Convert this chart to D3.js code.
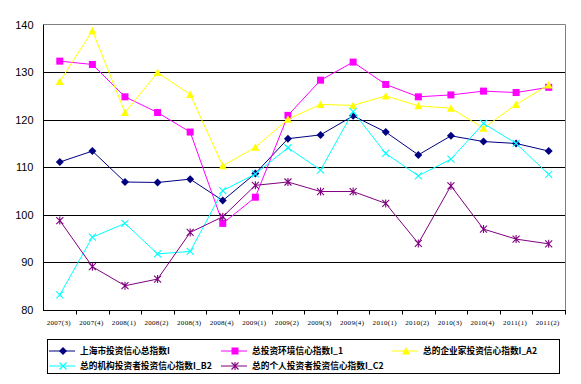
<!DOCTYPE html>
<html>
<head>
<meta charset="utf-8">
<script src="https://cdn.jsdelivr.net/npm/d3@7/dist/d3.min.js"></script>
<style>
  body { margin: 0; background: #fff; }
  svg { display: block; }
</style>
</head>
<body>
<div id="main"></div>
<script>
const W = 581, H = 384;

// quarters on the x axis
const categories = ["2007(3)", "2007(4)", "2008(1)", "2008(2)", "2008(3)", "2008(4)",
    "2009(1)", "2009(2)", "2009(3)", "2009(4)", "2010(1)", "2010(2)",
    "2010(3)", "2010(4)", "2011(1)", "2011(2)"];
const yTicks = [80, 90, 100, 110, 120, 130, 140];

// values
const totalIndex = [111.1, 113.4, 106.9, 106.8, 107.5, 103.0, 108.7, 116.0,
    116.8, 120.8, 117.4, 112.6, 116.6, 115.4, 115.0, 113.4];
const envIndex = [132.3, 131.6, 124.8, 121.5, 117.4, 98.2, 103.7, 120.9,
    128.3, 132.1, 127.4, 124.8, 125.2, 126.0, 125.7, 126.8];
const entrepreneurIndex = [128.0, 138.7, 121.5, 129.9, 125.3, 110.3, 114.2, 120.1,
    123.2, 123.0, 125.0, 122.9, 122.4, 118.2, 123.2, 127.3];
const institutionIndex = [83.2, 95.3, 98.2, 91.8, 92.3, 105.1, 108.6, 114.1,
    109.4, 121.7, 112.9, 108.2, 111.7, 119.2, 115.0, 108.5];
const personalIndex = [98.8, 89.1, 85.1, 86.5, 96.3, 99.6, 106.2, 106.9,
    104.9, 104.9, 102.4, 94.0, 106.1, 97.0, 94.9, 93.9];

const seriesNames = ["上海市投资信心总指数I", "总投资环境信心指数I_1", "总的企业家投资信心指数I_A2",
    "总的机构投资者投资信心指数I_B2", "总的个人投资者投资信心指数I_C2"];
const seriesValues = [totalIndex, envIndex, entrepreneurIndex, institutionIndex, personalIndex];
const seriesColors = ["#000080", "#ff00ff", "#ffff00", "#00ffff", "#800080"];
const seriesMarkers = ["diamond", "square", "triangle", "cross", "star"];

const plot = {left: 43.5, right: 565, top: 24.5, bottom: 310};

const x = d3.scaleBand().domain(categories).range([plot.left, plot.right]);
const y = d3.scaleLinear().domain([80, 140]).range([plot.bottom, plot.top]);

const svg = d3.select("#main").append("svg")
    .attr("width", W)
    .attr("height", H);
svg.append("rect").attr("width", W).attr("height", H).attr("fill", "#fff");

// grid lines
svg.append("g").attr("id", "grid")
    .selectAll("line")
    .data(yTicks.filter(v => v > 80 && v < 140))
    .enter()
    .append("line")
    .attr("x1", plot.left).attr("x2", plot.right)
    .attr("y1", d => Math.round(y(d)) + 0.5)
    .attr("y2", d => Math.round(y(d)) + 0.5)
    .attr("stroke", "#000")
    .attr("stroke-width", 1);

// frame: grey top and right, black left and bottom
const frame = svg.append("g").attr("id", "frame");
frame.append("line")
    .attr("x1", plot.left).attr("x2", plot.right + 0.5)
    .attr("y1", plot.top).attr("y2", plot.top)
    .attr("stroke", "#808080");
frame.append("line")
    .attr("x1", plot.right + 0.5).attr("x2", plot.right + 0.5)
    .attr("y1", plot.top).attr("y2", plot.bottom)
    .attr("stroke", "#808080");
frame.append("line")
    .attr("x1", plot.left).attr("x2", plot.left)
    .attr("y1", plot.top).attr("y2", plot.bottom)
    .attr("stroke", "#000");

// y axis labels
const yAxis = svg.append("g")
    .attr("transform", `translate(${plot.left},0)`)
    .call(d3.axisLeft(y).tickValues(yTicks).tickSize(0).tickPadding(10));
yAxis.select(".domain").remove();
yAxis.selectAll("text")
    .style("font-family", "'Liberation Sans', Arial, sans-serif")
    .style("font-size", "11px")
    .attr("fill", "#000");

// x axis: labels centred on bands, ticks on band boundaries
const xAxis = svg.append("g")
    .attr("transform", `translate(0,${plot.bottom})`)
    .call(d3.axisBottom(x).tickSize(0).tickPadding(10));
xAxis.select(".domain").remove();
xAxis.selectAll("text")
    .attr("dx", -1)
    .style("font-family", "'Liberation Serif', 'DejaVu Serif', serif")
    .style("font-size", "7px")
    .style("letter-spacing", "0.3px")
    .attr("fill", "#000");

svg.append("line")
    .attr("x1", plot.left - 0.5).attr("x2", plot.right + 1)
    .attr("y1", plot.bottom + 0.5).attr("y2", plot.bottom + 0.5)
    .attr("stroke", "#000");
const bounds = categories.map(c => x(c)).concat([plot.right]).slice(1);
svg.append("g").selectAll("line")
    .data(bounds)
    .enter()
    .append("line")
    .attr("x1", d => Math.round(d) + 0.5).attr("x2", d => Math.round(d) + 0.5)
    .attr("y1", plot.bottom).attr("y2", plot.bottom + 4.5)
    .attr("stroke", "#000");

function drawMarker(g, type, color) {
    if (type == "diamond") {
        g.append("path").attr("d", "M0,-4L4,0L0,4L-4,0Z")
            .attr("fill", color);
    } else if (type == "square") {
        g.append("rect").attr("x", -3.5).attr("y", -3.5).attr("width", 7).attr("height", 7)
            .attr("fill", color);
    } else if (type == "triangle") {
        g.append("path").attr("d", "M0,-4L4,3.5L-4,3.5Z").attr("fill", color);
    } else if (type == "cross") {
        g.append("path").attr("d", "M-3.5,-3.5L3.5,3.5M-3.5,3.5L3.5,-3.5")
            .attr("stroke", color).attr("stroke-width", 1.1).attr("fill", "none");
    } else {
        g.append("path").attr("d", "M-3.5,-3.5L3.5,3.5M-3.5,3.5L3.5,-3.5M0,-4L0,4")
            .attr("stroke", color).attr("stroke-width", 1.1).attr("fill", "none");
    }
}

// series
const line = d3.line()
    .x((d, i) => x(categories[i]) + x.bandwidth() / 2)
    .y(d => y(d));

const seriesG = svg.append("g").attr("id", "series");
seriesValues.forEach(function(vals, s) {
    const g = seriesG.append("g");
    g.append("path")
        .attr("d", line(vals))
        .attr("fill", "none")
        .attr("stroke", seriesColors[s])
        .attr("stroke-width", 1);
    g.selectAll("g.pt")
        .data(vals)
        .enter()
        .append("g")
        .attr("class", "pt")
        .attr("transform", (d, i) => `translate(${x(categories[i]) + x.bandwidth() / 2},${y(d)})`)
        .each(function() { drawMarker(d3.select(this), seriesMarkers[s], seriesColors[s]); });
});

// legend
const legend = svg.append("g").attr("id", "legend");
legend.append("rect")
    .attr("x", 47.5).attr("y", 339.5)
    .attr("width", 512).attr("height", 34)
    .attr("fill", "#fff").attr("stroke", "#000").attr("stroke-width", 1);

const legendPos = [[49, 351], [221, 351], [392, 351], [49, 366], [221, 366]];
seriesNames.forEach(function(name, s) {
    const p = legendPos[s];
    const g = legend.append("g").attr("transform", `translate(${p[0]},${p[1]})`);
    g.append("line").attr("x1", 0).attr("x2", 26).attr("y1", 0).attr("y2", 0)
        .attr("stroke", seriesColors[s]).attr("stroke-width", 1);
    const m = g.append("g").attr("transform", "translate(14,0)");
    drawMarker(m, seriesMarkers[s], seriesColors[s]);
    g.append("text")
        .attr("x", 31).attr("y", 0)
        .attr("dy", "0.35em")
        .style("font-family", "'Noto Sans CJK SC', sans-serif")
        .style("font-size", "8.7px")
        .style("font-weight", "bold")
        .text(name);
});
</script>
</body>
</html>
